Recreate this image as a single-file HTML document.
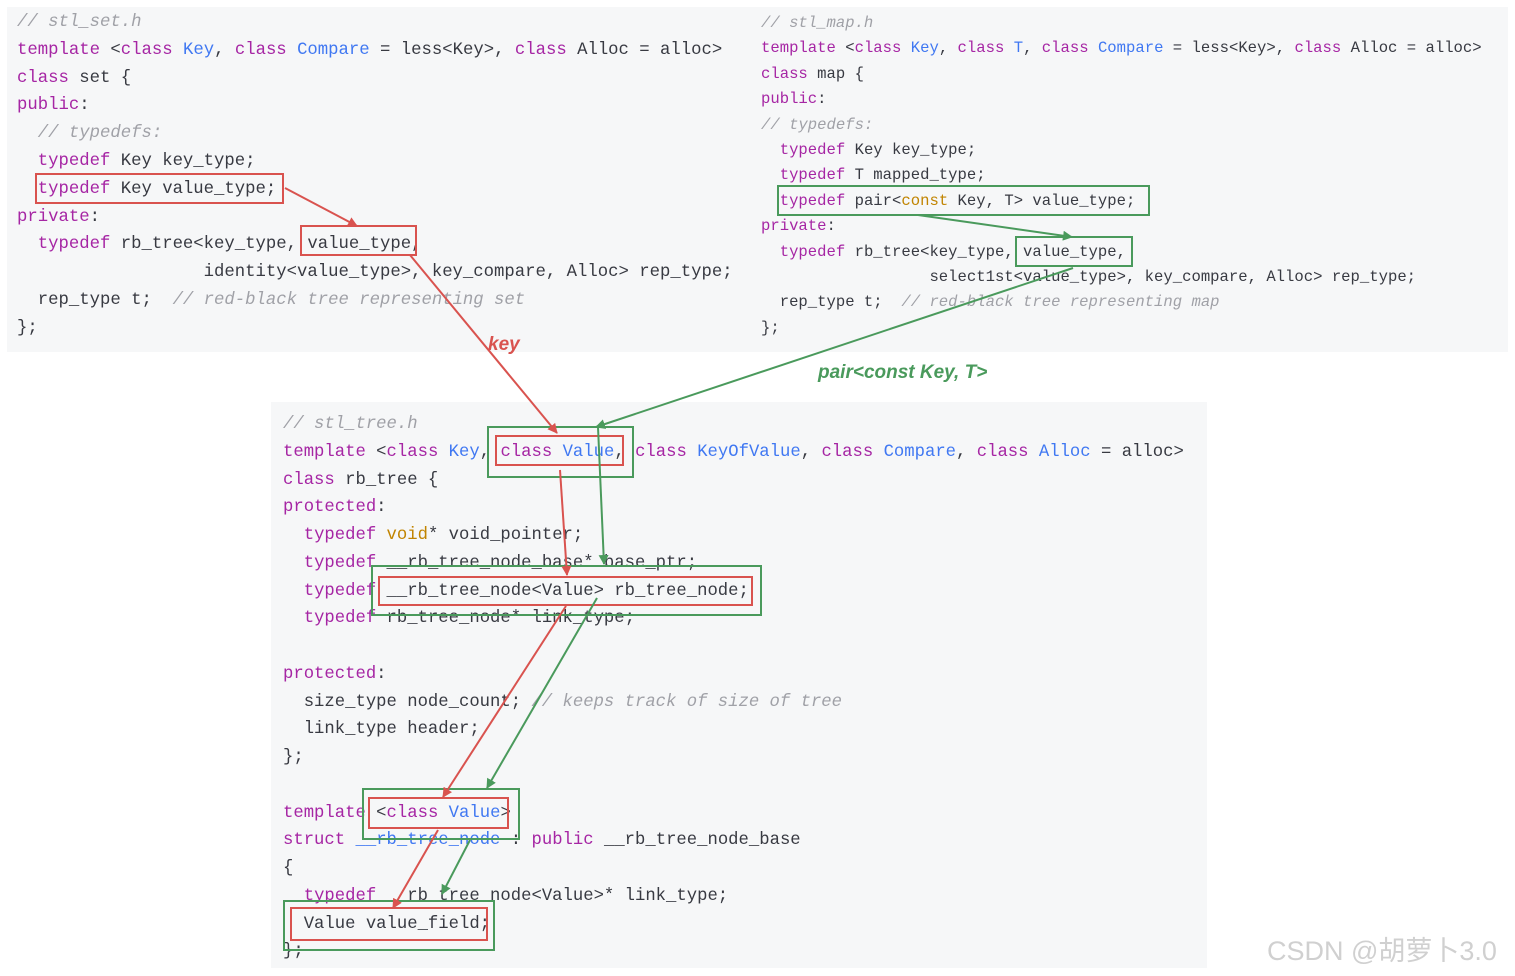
<!DOCTYPE html>
<html><head><meta charset="utf-8"><style>
body{margin:0;width:1515px;height:976px;background:#fff;position:relative;overflow:hidden;font-family:"Liberation Mono",monospace;}
.p{position:absolute;background:#f6f7f8;}
pre{position:absolute;margin:0;font-family:"Liberation Mono",monospace;color:#383a42;white-space:pre;}
.k{color:#a626a4}.b{color:#4078f2}.c{color:#a0a1a7;font-style:italic}.o{color:#c18401}
svg{position:absolute;left:0;top:0}
</style></head><body>
<div class="p" style="left:7px;top:7px;width:1501px;height:345px"></div>
<div class="p" style="left:271px;top:402px;width:936px;height:566px"></div>
<pre style="left:17px;top:9px;font-size:17.3px;line-height:27.8px"><span class="c">// stl_set.h</span>
<span class="k">template</span> &lt;<span class="k">class</span> <span class="b">Key</span>, <span class="k">class</span> <span class="b">Compare</span> = less&lt;Key&gt;, <span class="k">class</span> Alloc = alloc&gt;
<span class="k">class</span> set {
<span class="k">public</span>:
  <span class="c">// typedefs:</span>
  <span class="k">typedef</span> Key key_type;
  <span class="k">typedef</span> Key value_type;
<span class="k">private</span>:
  <span class="k">typedef</span> rb_tree&lt;key_type, value_type,
                  identity&lt;value_type&gt;, key_compare, Alloc&gt; rep_type;
  rep_type t;  <span class="c">// red-black tree representing set</span>
};</pre>
<pre style="left:761px;top:11px;font-size:15.6px;line-height:25.4px"><span class="c">// stl_map.h</span>
<span class="k">template</span> &lt;<span class="k">class</span> <span class="b">Key</span>, <span class="k">class</span> <span class="b">T</span>, <span class="k">class</span> <span class="b">Compare</span> = less&lt;Key&gt;, <span class="k">class</span> Alloc = alloc&gt;
<span class="k">class</span> map {
<span class="k">public</span>:
<span class="c">// typedefs:</span>
  <span class="k">typedef</span> Key key_type;
  <span class="k">typedef</span> T mapped_type;
  <span class="k">typedef</span> pair&lt;<span class="o">const</span> Key, T&gt; value_type;
<span class="k">private</span>:
  <span class="k">typedef</span> rb_tree&lt;key_type, value_type,
                  select1st&lt;value_type&gt;, key_compare, Alloc&gt; rep_type;
  rep_type t;  <span class="c">// red-black tree representing map</span>
};</pre>
<pre style="left:283px;top:411px;font-size:17.25px;line-height:27.75px"><span class="c">// stl_tree.h</span>
<span class="k">template</span> &lt;<span class="k">class</span> <span class="b">Key</span>, <span class="k">class</span> <span class="b">Value</span>, <span class="k">class</span> <span class="b">KeyOfValue</span>, <span class="k">class</span> <span class="b">Compare</span>, <span class="k">class</span> <span class="b">Alloc</span> = alloc&gt;
<span class="k">class</span> rb_tree {
<span class="k">protected</span>:
  <span class="k">typedef</span> <span class="o">void</span>* void_pointer;
  <span class="k">typedef</span> __rb_tree_node_base* base_ptr;
  <span class="k">typedef</span> __rb_tree_node&lt;Value&gt; rb_tree_node;
  <span class="k">typedef</span> rb_tree_node* link_type;

<span class="k">protected</span>:
  size_type node_count; <span class="c">// keeps track of size of tree</span>
  link_type header;
};

<span class="k">template</span> &lt;<span class="k">class</span> <span class="b">Value</span>&gt;
<span class="k">struct</span> <span class="b">__rb_tree_node</span> : <span class="k">public</span> __rb_tree_node_base
{
  <span class="k">typedef</span> __rb_tree_node&lt;Value&gt;* link_type;
  Value value_field;
};</pre>
<svg width="1515" height="976">
<defs>
<marker id="ar" markerWidth="10" markerHeight="10" refX="9" refY="5" orient="auto" markerUnits="userSpaceOnUse" viewBox="0 0 10 10"><path d="M0,0 L10,5 L0,10z" fill="#d9534f"/></marker>
<marker id="ag" markerWidth="10" markerHeight="10" refX="9" refY="5" orient="auto" markerUnits="userSpaceOnUse" viewBox="0 0 10 10"><path d="M0,0 L10,5 L0,10z" fill="#4a9a5c"/></marker>
</defs>
<g fill="none" stroke-width="2">
<rect x="36" y="174" width="247" height="29" stroke="#d9534f"/>
<rect x="301" y="226" width="115" height="29" stroke="#d9534f"/>
<rect x="778" y="186" width="371" height="29" stroke="#4a9a5c"/>
<rect x="1016" y="237" width="116" height="29" stroke="#4a9a5c"/>
<rect x="488" y="427" width="145" height="50" stroke="#4a9a5c"/>
<rect x="496" y="436" width="127" height="29" stroke="#d9534f"/>
<rect x="372" y="566" width="389" height="49" stroke="#4a9a5c"/>
<rect x="379" y="577" width="373" height="28" stroke="#d9534f"/>
<rect x="363" y="789" width="156" height="50" stroke="#4a9a5c"/>
<rect x="369" y="798" width="139" height="30" stroke="#d9534f"/>
<rect x="284" y="901" width="210" height="49" stroke="#4a9a5c"/>
<rect x="291" y="908" width="196" height="32" stroke="#d9534f"/>
<g stroke="#d9534f">
<line x1="285" y1="188" x2="357" y2="226" marker-end="url(#ar)"/>
<line x1="410" y1="255" x2="557" y2="433" marker-end="url(#ar)"/>
<line x1="560" y1="470" x2="567" y2="575" marker-end="url(#ar)"/>
<line x1="566" y1="606" x2="443" y2="797" marker-end="url(#ar)"/>
<line x1="438" y1="830" x2="393" y2="908" marker-end="url(#ar)"/>
</g>
<g stroke="#4a9a5c">
<line x1="918" y1="215" x2="1072" y2="237" marker-end="url(#ag)"/>
<line x1="1073" y1="268" x2="596" y2="427" marker-end="url(#ag)"/>
<line x1="598" y1="427" x2="604" y2="564" marker-end="url(#ag)"/>
<line x1="597" y1="598" x2="487" y2="788" marker-end="url(#ag)"/>
<line x1="470" y1="840" x2="442" y2="894" marker-end="url(#ag)"/>
</g>
</g>
<text x="488" y="350" font-family="Liberation Sans,sans-serif" font-size="19" font-weight="bold" font-style="italic" fill="#d9534f">key</text>
<text x="818" y="378" font-family="Liberation Sans,sans-serif" font-size="19" font-weight="bold" font-style="italic" fill="#4a9a5c">pair&lt;const Key, T&gt;</text>
<text x="1267" y="960" font-family="Liberation Sans,Noto Sans CJK SC,sans-serif" font-size="27" fill="#d0d0d0">CSDN @胡萝卜3.0</text>
</svg>
</body></html>
